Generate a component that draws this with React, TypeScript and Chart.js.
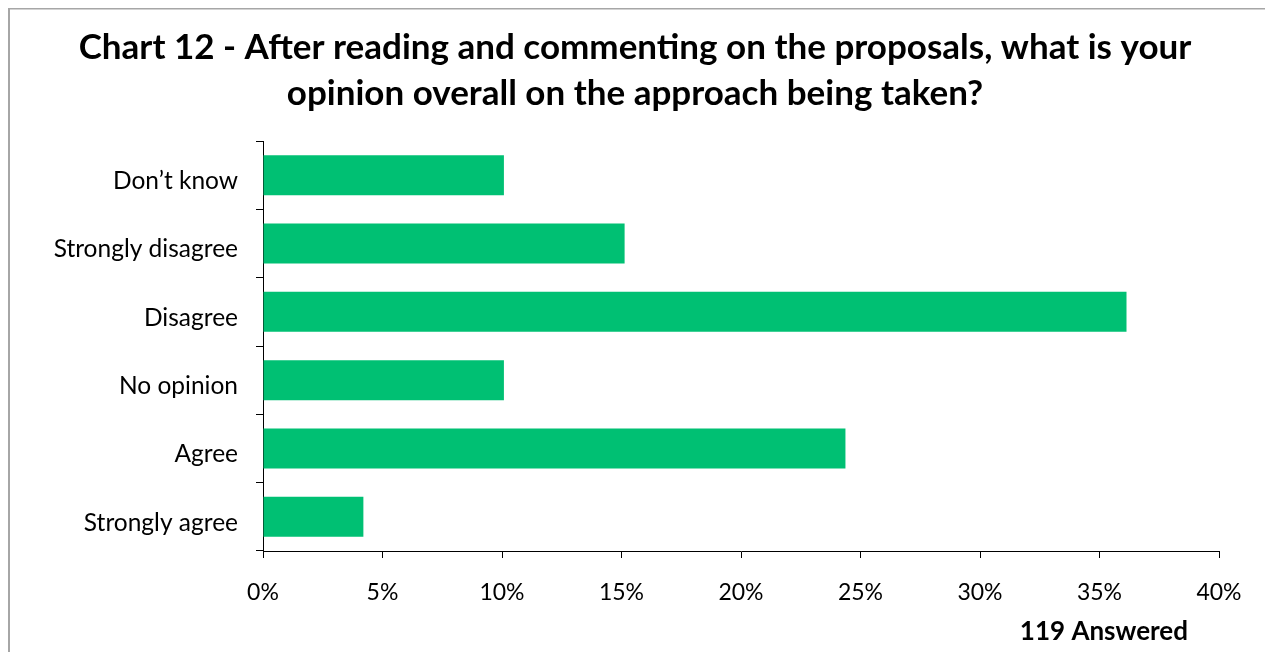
import React, { useEffect, useRef } from "react";
import { Chart, registerables } from "chart.js";

Chart.register(...registerables);

const categories = ["Don\u2019t know", "Strongly disagree", "Disagree", "No opinion", "Agree", "Strongly agree"];
const percentValues = [10.08, 15.13, 36.13, 10.08, 24.37, 4.2];
const titleLines = [
  "Chart 12 - After reading and commenting on the proposals, what is your",
  "opinion overall on the approach being taken?",
];
const footnote = "119 Answered";
const xMax = 40;
const xStep = 5;

const FONT = "Lato, 'Open Sans', sans-serif";

export default function App() {
  const canvasRef = useRef<HTMLCanvasElement | null>(null);

  useEffect(() => {
    if (!canvasRef.current) return;
    const framePlugin = {
      id: "frame",
      beforeDraw(chart: any) {
        const ctx = chart.ctx;
        ctx.save();
        ctx.fillStyle = "#ffffff";
        ctx.fillRect(0, 0, chart.width, chart.height);
        ctx.fillStyle = "#a6a6a6";
        ctx.fillRect(8, 8, chart.width - 8, 1.5);
        ctx.fillRect(8, 8, 2, chart.height - 8);
        ctx.restore();
      },
      afterDraw(chart: any) {
        const ctx = chart.ctx;
        const area = chart.chartArea;
        ctx.save();
        ctx.fillStyle = "#000";
        ctx.textAlign = "center";
        ctx.textBaseline = "alphabetic";
        ctx.font = "bold 35px " + FONT;
        const cx = 635;
        titleLines.forEach((line, i) => {
          ctx.fillText(line, cx, 59 + i * 46);
        });
        ctx.font = "bold 26px " + FONT;
        ctx.textAlign = "right";
        ctx.textBaseline = "middle";
        ctx.fillText(footnote, area.right - 31, area.bottom + 81);
        ctx.restore();
      },
    };

    const chart = new Chart(canvasRef.current, {
      type: "bar",
      data: {
        labels: categories,
        datasets: [
          {
            data: percentValues,
            backgroundColor: "#00c073",
            borderWidth: 0,
            barPercentage: 0.585,
            categoryPercentage: 1,
          },
        ],
      },
      options: {
        indexAxis: "y",
        responsive: false,
        animation: false,
        layout: { padding: { left: 0, right: 46, top: 141, bottom: 0 } },
        plugins: {
          legend: { display: false },
          tooltip: { enabled: false },
          title: { display: false },
        },
        scales: {
          x: {
            min: 0,
            max: xMax,
            afterFit(scale: any) {
              scale.height = 101;
            },
            ticks: {
              stepSize: xStep,
              color: "#000",
              font: { family: FONT, size: 23 },
              padding: 21,
              callback: (v: any) => v + "%",
            },
            grid: {
              drawOnChartArea: false,
              drawTicks: true,
              tickLength: 7,
              color: "#000",
            },
            border: { color: "#000", width: 1 },
          },
          y: {
            afterFit(scale: any) {
              scale.width = 263;
            },
            ticks: {
              color: "#000",
              font: { family: FONT, size: 24.5 },
              padding: 18,
              labelOffset: 6,
            },
            grid: {
              drawOnChartArea: false,
              drawTicks: true,
              tickLength: 7,
              offset: true,
              color: "#000",
            },
            border: { color: "#000", width: 1 },
          },
        },
      },
      plugins: [framePlugin],
    } as any);
    return () => chart.destroy();
  }, []);

  return (
    <div style={{ position: "fixed", left: 0, top: 0, width: 1265, height: 652, background: "#fff" }}>
      <canvas ref={canvasRef} width={1265} height={652} style={{ display: "block" }} />
    </div>
  );
}
